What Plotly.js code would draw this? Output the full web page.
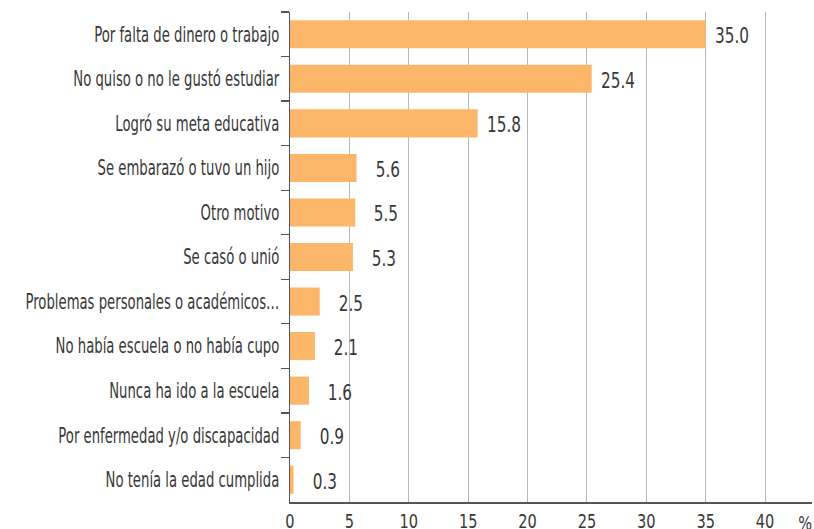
<!DOCTYPE html>
<html>
<head>
<meta charset="utf-8">
<script src="https://cdn.plot.ly/plotly-3.0.1.min.js"></script>
<style>html,body{margin:0;padding:0;background:#fff;}#chart{width:814px;height:529px;}</style>
</head>
<body>
<div id="chart"></div>
<script>
var categories = [
  "Por falta de dinero o trabajo",
  "No quiso o no le gustó estudiar",
  "Logró su meta educativa",
  "Se embarazó o tuvo un hijo",
  "Otro motivo",
  "Se casó o unió",
  "Problemas personales o académicos…",
  "No había escuela o no había cupo",
  "Nunca ha ido a la escuela",
  "Por enfermedad y/o discapacidad",
  "No tenía la edad cumplida"
];
var values = [35.0, 25.4, 15.8, 5.6, 5.5, 5.3, 2.5, 2.1, 1.6, 0.9, 0.3];
var tickVals = [0, 5, 10, 15, 20, 25, 30, 35, 40];

var FONT = "'DejaVu Sans Condensed', 'DejaVu Sans', sans-serif";
var FS = 21;
var TXT = "#383838";

var annotations = values.map(function (v, i) {
  return {
    x: v, y: categories[i], xref: "x", yref: "y",
    text: v.toFixed(1), showarrow: false,
    xanchor: "right", align: "right", xshift: 45, yshift: -2,
    font: {family: FONT, size: FS, color: TXT}
  };
});
annotations.push({
  x: 1, y: 0, xref: "paper", yref: "paper",
  text: "%", showarrow: false, xanchor: "right", align: "right", yanchor: "top",
  xshift: 2, yshift: -7,
  font: {family: FONT, size: FS - 1, color: TXT}
});

var trace = {
  type: "bar",
  orientation: "h",
  x: values,
  y: categories,
  marker: {color: "#FBB66A"},
  hoverinfo: "none"
};

var layout = {
  width: 814, height: 529,
  margin: {l: 290, r: 2, t: 12, b: 27},
  paper_bgcolor: "#fff", plot_bgcolor: "#fff",
  bargap: 0.37,
  showlegend: false,
  font: {family: FONT, size: FS, color: TXT},
  xaxis: {
    range: [0, 43.95],
    tickvals: tickVals,
    ticktext: tickVals.map(String),
    showgrid: true, gridcolor: "#b8b8b8", gridwidth: 1,
    zeroline: false,
    showline: true, linecolor: "#555", linewidth: 1.5,
    ticks: "",
    tickfont: {family: FONT, size: FS - 1, color: TXT},
    fixedrange: true
  },
  yaxis: {
    type: "category",
    categoryorder: "array",
    categoryarray: categories,
    autorange: "reversed",
    showline: true, linecolor: "#555", linewidth: 1.5,
    ticks: "outside", ticklen: 8, tickcolor: "#555", tickwidth: 1.2,
    tickson: "boundaries",
    showgrid: false,
    ticklabelstandoff: 5,
    tickfont: {family: FONT, size: FS, color: TXT},
    fixedrange: true
  },
  annotations: annotations
};

function squeeze(nodes, factor) {
  nodes.forEach(function (t) {
    var w = t.getComputedTextLength();
    if (w > 0) {
      t.setAttribute("textLength", (w * factor).toFixed(2));
      t.setAttribute("lengthAdjust", "spacingAndGlyphs");
    }
  });
}

Plotly.newPlot("chart", [trace], layout, {displayModeBar: false, staticPlot: true}).then(function (gd) {
  var yt = Array.prototype.slice.call(gd.querySelectorAll(".ytick text"));
  var xt = Array.prototype.slice.call(gd.querySelectorAll(".xtick text"));
  var an = Array.prototype.slice.call(gd.querySelectorAll(".annotation-text"));
  // condensed look: scale category labels so the first one is ~185px wide
  var first = yt.filter(function (t) { return t.textContent === categories[0]; })[0] || yt[0];
  var catF = 185 / first.getComputedTextLength();
  var numF = 34 / an[0].getComputedTextLength();
  squeeze(yt, catF);
  squeeze(xt, numF);
  squeeze(an, numF);
});
</script>
</body>
</html>
